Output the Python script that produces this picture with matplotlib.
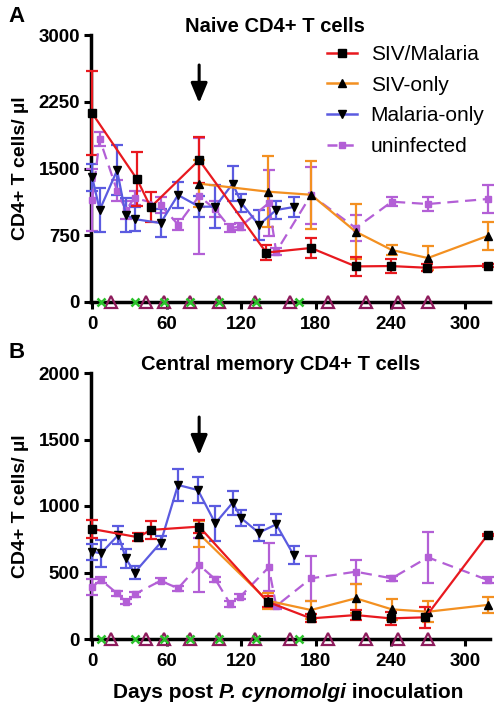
import matplotlib
matplotlib.use("Agg")
import matplotlib.pyplot as plt
from matplotlib.lines import Line2D

plt.rcParams['font.family'] = ['Liberation Sans', 'DejaVu Sans']

# ---------------- Panel A: Naive CD4+ T cells ----------------
a_sm_days = [0, 36, 47, 86, 140, 176, 212, 240, 269, 318]
a_sm_vals = [2120, 1380, 1065, 1595, 555, 607, 400, 404, 385, 408]
a_sm_err = [470, 300, 170, 260, 80, 110, 110, 80, 40, 20]

a_so_days = [86, 141, 176, 212, 241, 270, 318]
a_so_vals = [1330, 1240, 1205, 790, 584, 494, 742]
a_so_err = [260, 400, 380, 310, 60, 140, 160]

a_mo_days = [0, 6, 20, 27, 34, 55, 69, 86, 99, 113, 120, 134, 148, 162]
a_mo_vals = [1400, 1034, 1480, 977, 932, 887, 1202, 1071, 1071, 1330, 1112, 865, 1034, 1067]
a_mo_err = [150, 250, 280, 190, 130, 160, 150, 120, 240, 200, 100, 170, 100, 110]

a_un_days = [0, 6, 20, 27, 34, 55, 69, 86, 99, 111, 119, 142, 148, 176, 212, 241, 270, 318]
a_un_vals = [1150, 1830, 1250, 1030, 1170, 1090, 870, 1190, 1040, 831, 846, 1112, 565, 1202, 831, 1127, 1101, 1157]
a_un_err = [350, 80, 120, 100, 80, 90, 60, 650, 90, 40, 40, 370, 40, 320, 150, 50, 80, 160]

# ---------------- Panel B: Central memory CD4+ T cells ----------------
b_sm_days = [0, 37, 47, 86, 141, 176, 212, 240, 268, 318]
b_sm_vals = [827, 765, 820, 845, 280, 155, 180, 155, 163, 782]
b_sm_err = [70, 30, 70, 50, 40, 30, 40, 50, 80, 10]

b_so_days = [86, 141, 176, 212, 241, 270, 318]
b_so_vals = [790, 288, 218, 306, 223, 205, 256]
b_so_err = [100, 60, 70, 110, 80, 80, 60]

b_mo_days = [0, 7, 21, 27, 34, 55, 69, 85, 99, 113, 120, 134, 148, 162]
b_mo_vals = [657, 644, 782, 607, 499, 724, 1158, 1120, 870, 1025, 907, 799, 862, 632]
b_mo_err = [60, 100, 70, 70, 50, 50, 120, 100, 130, 90, 60, 60, 80, 70]

b_un_days = [0, 7, 20, 27, 34, 55, 69, 86, 99, 111, 119, 142, 148, 176, 212, 241, 270, 318]
b_un_vals = [393, 444, 343, 281, 336, 438, 381, 556, 449, 263, 318, 539, 248, 456, 506, 456, 614, 444]
b_un_err = [60, 20, 20, 20, 20, 20, 20, 200, 20, 20, 20, 180, 20, 170, 90, 20, 190, 20]

# markers along the x axis
tri_days = [15, 43, 58, 79, 102, 131, 159, 190, 220, 246, 270]
x_days = [7, 34, 58, 79, 102, 132, 166]

arrow_day = 86

labels = ['SIV/Malaria', 'SIV-only', 'Malaria-only', 'uninfected']
col_sm = '#e8191f'
col_so = '#f39021'
col_mo = '#5b5be0'
col_un = '#b35fd6'

W, H = 498, 709
fig = plt.figure(figsize=(W / 100, H / 100), dpi=100)

def box(l, t, r, b):
    return [l / W, 1 - b / H, (r - l) / W, (b - t) / H]

axA = fig.add_axes(box(91, 35, 490, 302))
axB = fig.add_axes(box(91, 373, 490, 639))


def draw(ax, series, ymax, yticks, arrow_tip, arrow_tail):
    for days, vals, err, col, mk, ms, ls, mfc, lab in series:
        ax.errorbar(days, vals, yerr=err, color=col, ls=ls, lw=1.6,
                    marker=mk, ms=ms, mfc=mfc, mec=mfc, ecolor=col,
                    elinewidth=1.6, capsize=4, capthick=1.6,
                    dashes=(5, 3) if ls == '--' else (None, None),
                    clip_on=False, zorder=3, label=lab)
    ax.plot(tri_days, [0] * len(tri_days), ls='none', marker='^', ms=8,
            mfc='none', mec='#8e1b5c', mew=1.6, clip_on=False, zorder=5)
    ax.plot(x_days, [0] * len(x_days), ls='none', marker='x', ms=6,
            color='#2bc22b', mew=1.8, clip_on=False, zorder=6)
    ax.annotate('', xy=(arrow_day, arrow_tip), xytext=(arrow_day, arrow_tail),
                arrowprops=dict(arrowstyle='-|>,head_width=0.5,head_length=1.2',
                                color='black', lw=2.2, shrinkA=0, shrinkB=0))
    ax.set_xlim(-1, 320)
    ax.set_ylim(0, ymax)
    ax.set_yticks(yticks)
    ax.set_xticks([0, 60, 120, 180, 240, 300])
    for s in ['top', 'right']:
        ax.spines[s].set_visible(False)
    for s in ['left', 'bottom']:
        ax.spines[s].set_linewidth(2.5)
    ax.tick_params(width=2.2, length=5, labelsize=13.5)
    ax.tick_params(axis='x', pad=5)
    ax.tick_params(axis='y', pad=3)
    for t in ax.get_xticklabels() + ax.get_yticklabels():
        t.set_fontweight('bold')
    ax.set_ylabel('CD4+ T cells/ µl', fontsize=14, fontweight='bold')
    ax.yaxis.set_label_coords(-0.155, 0.5)


def series_list(sm, so, mo, un):
    return [
        (*un, col_un, 's', 4.5, '--', col_un, labels[3]),
        (*mo, col_mo, 'v', 6, '-', 'black', labels[2]),
        (*so, col_so, '^', 6, '-', 'black', labels[1]),
        (*sm, col_sm, 's', 6, '-', 'black', labels[0]),
    ]


sA = series_list((a_sm_days, a_sm_vals, a_sm_err), (a_so_days, a_so_vals, a_so_err),
                 (a_mo_days, a_mo_vals, a_mo_err), (a_un_days, a_un_vals, a_un_err))
draw(axA, sA, 3000, [0, 750, 1500, 2250, 3000], 2236, 2663)
sB = series_list((b_sm_days, b_sm_vals, b_sm_err), (b_so_days, b_so_vals, b_so_err),
                 (b_mo_days, b_mo_vals, b_mo_err), (b_un_days, b_un_vals, b_un_err))
draw(axB, sB, 2000, [0, 500, 1000, 1500, 2000], 1383, 1669)

# legend (line + marker only)
proxies = [
    Line2D([], [], color=col_sm, lw=1.8, marker='s', ms=5.5, mfc='black', mec='black'),
    Line2D([], [], color=col_so, lw=1.8, marker='^', ms=5.5, mfc='black', mec='black'),
    Line2D([], [], color=col_mo, lw=1.8, marker='v', ms=5.5, mfc='black', mec='black'),
    Line2D([], [], color=col_un, lw=1.8, ls='--', dashes=(4, 2.5), marker='s', ms=5,
           mfc=col_un, mec=col_un),
]
fig.legend(proxies, labels, loc='upper left', bbox_to_anchor=(327 / W, 1 - 45 / H),
           frameon=False, fontsize=15, handlelength=1.45, labelspacing=0.56,
           handletextpad=0.65, borderpad=0, borderaxespad=0)

fig.text(275 / W, 1 - 27 / H, 'Naive CD4+ T cells', ha='center', va='center',
         fontsize=14.5, fontweight='bold')
fig.text(281 / W, 1 - 365 / H, 'Central memory CD4+ T cells', ha='center', va='center',
         fontsize=14.5, fontweight='bold')
fig.text(8 / W, 1 - 16 / H, 'A', ha='left', va='center', fontsize=16, fontweight='bold')
fig.text(8 / W, 1 - 352 / H, 'B', ha='left', va='center', fontsize=16, fontweight='bold')

# x label with italic species name
parts = [('Days post ', 'normal'), ('P. cynomolgi', 'italic'), (' inoculation', 'normal')]
fig.canvas.draw()
r = fig.canvas.get_renderer()
texts = []
widths = []
for s, st in parts:
    t = fig.text(0, 1 - 693 / H, s, fontsize=15, fontweight='bold', style=st,
                 ha='left', va='center')
    bb = t.get_window_extent(renderer=r)
    texts.append(t)
    widths.append(bb.width)
total = sum(widths)
x0 = 288 - total / 2
for t, w in zip(texts, widths):
    t.set_x(x0 / W)
    x0 += w

fig.savefig('out.png', dpi=100)
